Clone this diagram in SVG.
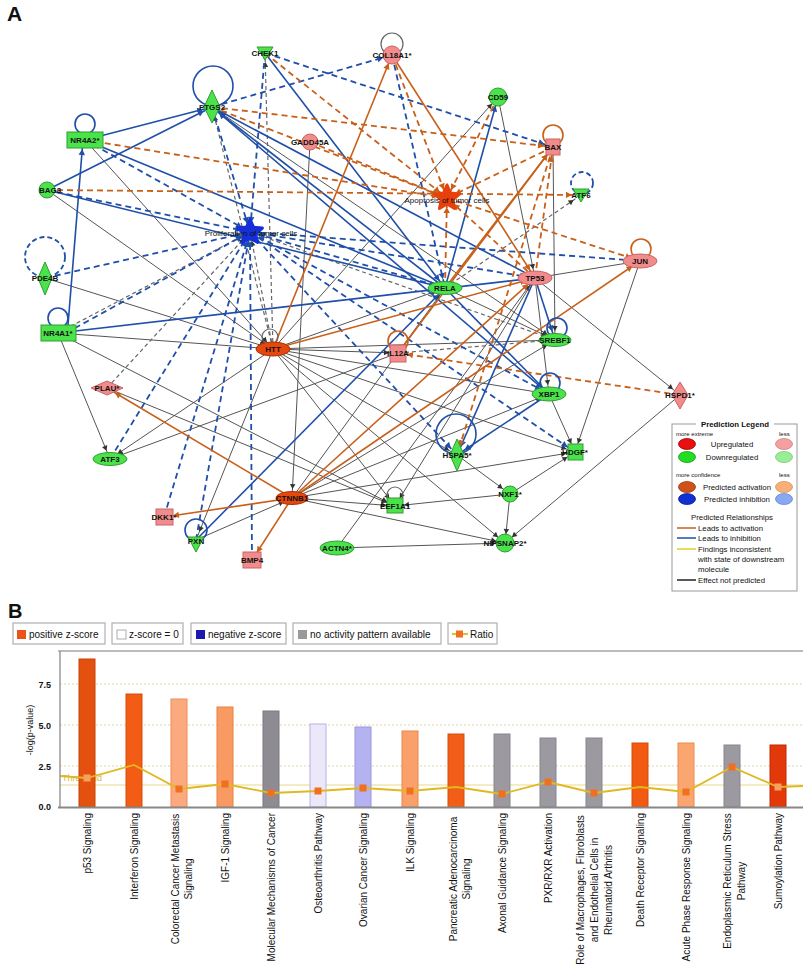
<svg xmlns="http://www.w3.org/2000/svg" width="803" height="971" viewBox="0 0 803 971">
<defs>
<style>
text{font-family:"Liberation Sans",Arial,sans-serif;fill:#111}
.lbl{font-size:8px;font-weight:bold;text-anchor:middle}
.flbl{font-size:8px;text-anchor:middle}
.bs{stroke:#1f4fa8;stroke-width:1.6;fill:none;marker-end:url(#mb)}
.bd{stroke:#1f4fa8;stroke-width:1.8;fill:none;stroke-dasharray:6 4;marker-end:url(#mb)}
.os{stroke:#c8601a;stroke-width:1.6;fill:none;marker-end:url(#mo)}
.od{stroke:#c8601a;stroke-width:1.8;fill:none;stroke-dasharray:6 4;marker-end:url(#mo)}
.gs{stroke:#555;stroke-width:1;fill:none;marker-end:url(#mg)}
.gd{stroke:#666;stroke-width:1.2;fill:none;stroke-dasharray:4 3;marker-end:url(#mg)}
.lb{stroke:#1f4fa8;stroke-width:1.6;fill:none}
.lbd{stroke:#1f4fa8;stroke-width:1.8;fill:none;stroke-dasharray:5 3}
.lo{stroke:#c8601a;stroke-width:1.6;fill:none}
.lg{stroke:#666;stroke-width:1.2;fill:none}
.up{fill:#F28C8C;stroke:#c86464;stroke-width:1}
.dn{fill:#4BE34B;stroke:#2e9e2e;stroke-width:1}
.rd{fill:#E5480C;stroke:#a83008;stroke-width:1}
.lt{font-size:7.8px}
.ls{font-size:6px}
.xl{font-size:10px}
.bx{fill:#fff;stroke:#b0b0b0;stroke-width:1.2}
.bt{font-size:10px}
</style>
<marker id="mb" viewBox="-8 -4 20 8" markerWidth="20" markerHeight="8" refX="9" refY="0" orient="auto" markerUnits="userSpaceOnUse"><path d="M-6,-3.2 L0,0 L-6,3.2 z" fill="#1f4fa8"/></marker>
<marker id="mo" viewBox="-8 -4 20 8" markerWidth="20" markerHeight="8" refX="9" refY="0" orient="auto" markerUnits="userSpaceOnUse"><path d="M-6,-3.2 L0,0 L-6,3.2 z" fill="#c8601a"/></marker>
<marker id="mg" viewBox="-8 -4 20 8" markerWidth="20" markerHeight="8" refX="9" refY="0" orient="auto" markerUnits="userSpaceOnUse"><path d="M-5,-2.8 L0,0 L-5,2.8 z" fill="#333"/></marker>
<path id="burst" d="M0,-13 L3.5,-4.9 L12.4,-4 L5.7,1.9 L7.6,10.5 L0,6 L-7.6,10.5 L-5.7,1.9 L-12.4,-4 L-3.5,-4.9 Z"/>
</defs>
<rect width="803" height="971" fill="#fff"/>
<text x="7" y="21" style="font-size:21px;font-weight:bold">A</text>

<g id="connectors">
<!-- gray solid -->
<line class="gs" x1="47" y1="190" x2="273" y2="349"/>
<line class="gs" x1="85" y1="140" x2="273" y2="349"/>
<line class="gs" x1="45" y1="278" x2="273" y2="349"/>
<line class="gs" x1="273" y1="349" x2="58" y2="333"/>
<line class="gs" x1="58" y1="333" x2="110" y2="459"/>
<line class="gs" x1="58" y1="333" x2="395" y2="506"/>
<line class="gs" x1="273" y1="349" x2="110" y2="459"/>
<line class="gs" x1="398" y1="353" x2="110" y2="459"/>
<line class="gs" x1="310" y1="142" x2="292" y2="498"/>
<line class="gs" x1="273" y1="349" x2="498" y2="97"/>
<line class="gs" x1="273" y1="349" x2="445" y2="288"/>
<line class="gs" x1="273" y1="349" x2="555" y2="340"/>
<line class="gs" x1="273" y1="349" x2="549" y2="394"/>
<line class="gs" x1="273" y1="349" x2="457" y2="455"/>
<line class="gs" x1="273" y1="349" x2="575" y2="452"/>
<line class="gs" x1="273" y1="349" x2="395" y2="506"/>
<line class="gs" x1="273" y1="349" x2="505" y2="543"/>
<line class="gs" x1="273" y1="349" x2="398" y2="353"/>
<line class="gs" x1="273" y1="349" x2="196" y2="540"/>
<line class="gs" x1="196" y1="540" x2="292" y2="498"/>
<line class="gs" x1="107" y1="388" x2="395" y2="506"/>
<line class="gs" x1="292" y1="498" x2="445" y2="288"/>
<line class="gs" x1="292" y1="498" x2="395" y2="506"/>
<line class="gs" x1="292" y1="498" x2="575" y2="452"/>
<line class="gs" x1="292" y1="498" x2="505" y2="543"/>
<line class="gs" x1="292" y1="498" x2="555" y2="340"/>
<line class="gs" x1="292" y1="498" x2="549" y2="394"/>
<line class="gs" x1="337" y1="548" x2="535" y2="278"/>
<line class="gs" x1="337" y1="548" x2="505" y2="543"/>
<line class="gs" x1="498" y1="97" x2="535" y2="278"/>
<line class="gs" x1="553" y1="147" x2="555" y2="340"/>
<line class="gs" x1="535" y1="278" x2="640" y2="261"/>
<line class="gs" x1="535" y1="278" x2="680" y2="395"/>
<line class="gs" x1="640" y1="261" x2="575" y2="452"/>
<line class="gs" x1="680" y1="395" x2="505" y2="543"/>
<line class="gs" x1="549" y1="394" x2="575" y2="452"/>
<line class="gs" x1="457" y1="455" x2="510" y2="494"/>
<line class="gs" x1="510" y1="494" x2="575" y2="452"/>
<line class="gs" x1="510" y1="494" x2="395" y2="506"/>
<line class="gs" x1="510" y1="494" x2="505" y2="543"/>
<line class="gs" x1="535" y1="278" x2="395" y2="506"/>
<line class="gs" x1="445" y1="288" x2="555" y2="340"/>
<line class="gs" x1="535" y1="278" x2="549" y2="394"/>
<line class="gs" x1="212" y1="107" x2="555" y2="340"/>
<!-- gray dashed -->
<line class="gd" x1="273" y1="349" x2="265" y2="53"/>
<line class="gd" x1="273" y1="349" x2="212" y2="107"/>
<line class="gd" x1="107" y1="388" x2="250" y2="232"/>
<line class="gd" x1="273" y1="349" x2="250" y2="232"/>
<line class="gd" x1="250" y1="232" x2="555" y2="340"/>
<line class="gd" x1="445" y1="288" x2="581" y2="195"/>
<line class="gd" x1="398" y1="353" x2="555" y2="340"/>
<line class="gd" x1="58" y1="333" x2="250" y2="232"/>
<!-- blue dashed -->
<line class="bd" x1="85" y1="140" x2="250" y2="232"/>
<line class="bd" x1="47" y1="190" x2="250" y2="232"/>
<line class="bd" x1="45" y1="278" x2="250" y2="232"/>
<line class="bd" x1="66" y1="333" x2="250" y2="232"/>
<line class="bd" x1="110" y1="459" x2="250" y2="232"/>
<line class="bd" x1="164" y1="517" x2="250" y2="232"/>
<line class="bd" x1="196" y1="540" x2="250" y2="232"/>
<line class="bd" x1="252" y1="560" x2="250" y2="232"/>
<line class="bd" x1="250" y1="232" x2="457" y2="455"/>
<line class="bd" x1="250" y1="232" x2="549" y2="394"/>
<line class="bd" x1="250" y1="232" x2="575" y2="452"/>
<line class="bd" x1="250" y1="232" x2="535" y2="278"/>
<line class="bd" x1="445" y1="288" x2="250" y2="232"/>
<line class="bd" x1="250" y1="232" x2="640" y2="261"/>
<line class="bd" x1="265" y1="53" x2="250" y2="232"/>
<line class="bd" x1="212" y1="107" x2="250" y2="232"/>
<line class="bd" x1="212" y1="107" x2="392" y2="55"/>
<line class="bd" x1="265" y1="53" x2="553" y2="147"/>
<line class="bd" x1="392" y1="55" x2="445" y2="288"/>
<!-- blue solid -->
<line class="bs" x1="85" y1="140" x2="212" y2="107"/>
<line class="bs" x1="47" y1="190" x2="212" y2="107"/>
<line class="bs" x1="68" y1="325" x2="83" y2="140"/>
<line class="bs" x1="445" y1="288" x2="85" y2="140"/>
<line class="bs" x1="445" y1="288" x2="212" y2="107"/>
<line class="bs" x1="535" y1="278" x2="212" y2="107"/>
<line class="bs" x1="549" y1="394" x2="212" y2="107"/>
<line class="bs" x1="265" y1="53" x2="445" y2="288"/>
<line class="bs" x1="47" y1="190" x2="445" y2="288"/>
<line class="bs" x1="535" y1="278" x2="58" y2="333"/>
<line class="bs" x1="196" y1="540" x2="445" y2="288"/>
<line class="bs" x1="445" y1="288" x2="498" y2="97"/>
<line class="bs" x1="445" y1="288" x2="549" y2="394"/>
<line class="bs" x1="549" y1="394" x2="457" y2="455"/>
<line class="bs" x1="535" y1="278" x2="457" y2="455"/>
<line class="bs" x1="535" y1="278" x2="555" y2="340"/>
<!-- orange solid -->
<line class="os" x1="273" y1="349" x2="392" y2="55"/>
<line class="os" x1="292" y1="498" x2="107" y2="388"/>
<line class="os" x1="292" y1="498" x2="164" y2="517"/>
<line class="os" x1="292" y1="498" x2="252" y2="560"/>
<line class="os" x1="292" y1="498" x2="640" y2="261"/>
<line class="os" x1="292" y1="498" x2="535" y2="278"/>
<line class="os" x1="273" y1="349" x2="535" y2="278"/>
<line class="os" x1="392" y1="55" x2="535" y2="278"/>
<line class="os" x1="445" y1="288" x2="553" y2="147"/>
<line class="os" x1="398" y1="353" x2="553" y2="147"/>
<!-- orange dashed -->
<line class="od" x1="85" y1="140" x2="447" y2="198"/>
<line class="od" x1="212" y1="107" x2="447" y2="198"/>
<line class="od" x1="212" y1="107" x2="553" y2="147"/>
<line class="od" x1="265" y1="53" x2="447" y2="198"/>
<line class="od" x1="310" y1="142" x2="447" y2="198"/>
<line class="od" x1="392" y1="55" x2="447" y2="198"/>
<line class="od" x1="498" y1="97" x2="447" y2="198"/>
<line class="od" x1="553" y1="147" x2="447" y2="198"/>
<line class="od" x1="535" y1="278" x2="447" y2="198"/>
<line class="od" x1="447" y1="198" x2="640" y2="261"/>
<line class="od" x1="47" y1="190" x2="581" y2="195"/>
<line class="od" x1="535" y1="278" x2="553" y2="147"/>
<line class="od" x1="553" y1="147" x2="457" y2="455"/>
<line class="od" x1="680" y1="395" x2="398" y2="353"/>
<line class="od" x1="445" y1="288" x2="447" y2="198"/>
</g>

<g id="loops">
<circle class="lb" cx="213" cy="86" r="20"/>
<circle class="lb" cx="85" cy="124" r="10"/>
<circle class="lbd" cx="45" cy="257" r="20"/>
<circle class="lb" cx="58" cy="318" r="10"/>
<circle class="lg" cx="392" cy="44" r="11"/>
<circle class="lo" cx="553" cy="135" r="10"/>
<circle class="lbd" cx="582" cy="183" r="11"/>
<circle class="lo" cx="641" cy="249" r="10"/>
<circle class="lg" cx="270" cy="337" r="8"/>
<circle class="lo" cx="398" cy="341" r="10"/>
<circle class="lb" cx="557" cy="328" r="10"/>
<circle class="lb" cx="550" cy="383" r="10"/>
<circle class="lb" cx="456" cy="434" r="20"/>
<circle class="lb" cx="196" cy="530" r="11"/>
<circle class="lg" cx="395" cy="495" r="8"/>
</g>

<g id="n-chek1"><polygon class="dn" points="257,47 273,47 265,60"/><text class="lbl" x="265" y="56">CHEK1</text></g>
<g id="n-col18a1"><circle class="up" cx="392" cy="55" r="9"/><text class="lbl" x="392" y="58">COL18A1*</text></g>
<g id="n-ptgs2"><polygon class="dn" points="212,90 220,107 212,123 204,107"/><text class="lbl" x="212" y="110">PTGS2</text></g>
<g id="n-nr4a2"><rect class="dn" x="67" y="132" width="36" height="16"/><text class="lbl" x="85" y="143">NR4A2*</text></g>
<g id="n-gadd45a"><circle class="up" cx="310" cy="142" r="8"/><text class="lbl" x="310" y="145">GADD45A</text></g>
<g id="n-cd59"><circle class="dn" cx="498" cy="97" r="9"/><text class="lbl" x="498" y="100">CD59</text></g>
<g id="n-bax"><rect class="up" x="546" y="139" width="14" height="16"/><text class="lbl" x="553" y="150">BAX</text></g>
<g id="n-bag3"><circle class="dn" cx="47" cy="190" r="8"/><text class="lbl" x="50" y="193">BAG3</text></g>
<g id="n-apoptosis"><use href="#burst" transform="translate(447,198)" fill="#E8400C" stroke="#E8400C" stroke-width="3" stroke-linejoin="round"/><text class="flbl" x="447" y="203">Apoptosis of tumor cells</text></g>
<g id="n-atf6"><polygon class="dn" points="573,189 589,189 581,202"/><text class="lbl" x="581" y="198">ATF6</text></g>
<g id="n-proliferation"><use href="#burst" transform="translate(250,232)" fill="#1530D8" stroke="#1530D8" stroke-width="3" stroke-linejoin="round"/><text class="flbl" x="251" y="236">Proliferation of tumor cells</text></g>
<g id="n-pde4b"><polygon class="dn" points="45,262 52,278 45,295 38,278"/><text class="lbl" x="45" y="281">PDE4B</text></g>
<g id="n-jun"><ellipse class="up" cx="640" cy="261" rx="17" ry="7"/><text class="lbl" x="640" y="264">JUN</text></g>
<g id="n-tp53"><ellipse class="up" cx="535" cy="278" rx="17" ry="7"/><text class="lbl" x="535" y="281">TP53</text></g>
<g id="n-rela"><ellipse class="dn" cx="445" cy="288" rx="17" ry="6.5"/><text class="lbl" x="445" y="291">RELA</text></g>
<g id="n-nr4a1"><rect class="dn" x="41" y="325" width="35" height="16"/><text class="lbl" x="58" y="336">NR4A1*</text></g>
<g id="n-htt"><ellipse class="rd" cx="273" cy="349" rx="17" ry="7"/><text class="lbl" x="273" y="352">HTT</text></g>
<g id="n-il12a"><rect class="up" x="390" y="345" width="16" height="17"/><text class="lbl" x="398" y="356">IL12A</text></g>
<g id="n-srebf1"><ellipse class="dn" cx="555" cy="340" rx="16" ry="6.5"/><text class="lbl" x="555" y="343">SREBF1</text></g>
<g id="n-plau"><polygon class="up" points="91,388 107,381 123,388 107,395"/><text class="lbl" x="107" y="391">PLAU*</text></g>
<g id="n-hspd1"><polygon class="up" points="680,382 688,395 680,409 672,395"/><text class="lbl" x="680" y="398">HSPD1*</text></g>
<g id="n-xbp1"><ellipse class="dn" cx="549" cy="394" rx="17" ry="7"/><text class="lbl" x="549" y="397">XBP1</text></g>
<g id="n-atf3"><ellipse class="dn" cx="110" cy="459" rx="17" ry="6.5"/><text class="lbl" x="110" y="462">ATF3</text></g>
<g id="n-hspa5"><polygon class="dn" points="457,439 464,455 457,471 450,455"/><text class="lbl" x="457" y="458">HSPA5*</text></g>
<g id="n-hdgf"><rect class="dn" x="568" y="444" width="15" height="16"/><text class="lbl" x="575" y="455">HDGF*</text></g>
<g id="n-ctnnb1"><ellipse class="rd" cx="292" cy="498" rx="16" ry="6.5"/><text class="lbl" x="292" y="501">CTNNB1</text></g>
<g id="n-nxf1"><circle class="dn" cx="510" cy="494" r="8"/><text class="lbl" x="510" y="497">NXF1*</text></g>
<g id="n-eef1a1"><rect class="dn" x="387" y="498" width="16" height="15"/><text class="lbl" x="395" y="509">EEF1A1</text></g>
<g id="n-dkk1"><rect class="up" x="156" y="509" width="17" height="16"/><text class="lbl" x="164" y="520">DKK1*</text></g>
<g id="n-pxn"><polygon class="dn" points="188,537 204,537 196,552"/><text class="lbl" x="196" y="544">PXN</text></g>
<g id="n-bmp4"><rect class="up" x="243" y="552" width="18" height="16"/><text class="lbl" x="252" y="563">BMP4</text></g>
<g id="n-actn4"><ellipse class="dn" cx="337" cy="548" rx="17" ry="7"/><text class="lbl" x="337" y="551">ACTN4*</text></g>
<g id="n-nipsnap2"><circle class="dn" cx="505" cy="543" r="9"/><text class="lbl" x="505" y="546">NIPSNAP2*</text></g>

<g id="prediction-legend">
<rect x="672" y="424" width="125" height="167" fill="#fff" stroke="#999" stroke-width="1"/>
<rect x="696" y="419" width="78" height="9" fill="#fff"/>
<text class="lt" x="735" y="427" style="font-weight:bold;text-anchor:middle">Prediction Legend</text>
<text class="ls" x="676" y="436">more extreme</text>
<text class="ls" x="779" y="436">less</text>
<ellipse cx="687" cy="444" rx="8.5" ry="5.5" fill="#E81010" stroke="#a00" stroke-width="0.8"/>
<text class="lt" x="732" y="447" style="text-anchor:middle">Upregulated</text>
<ellipse cx="784" cy="444" rx="8.5" ry="5.5" fill="#F4A0A0" stroke="#c88" stroke-width="0.8"/>
<ellipse cx="687" cy="457" rx="8.5" ry="5.5" fill="#22DD22" stroke="#1a9a1a" stroke-width="0.8"/>
<text class="lt" x="732" y="460" style="text-anchor:middle">Downregulated</text>
<ellipse cx="784" cy="457" rx="8.5" ry="5.5" fill="#98EE98" stroke="#7c7" stroke-width="0.8"/>
<text class="ls" x="676" y="477">more confidence</text>
<text class="ls" x="779" y="477">less</text>
<ellipse cx="687" cy="487" rx="8.5" ry="5.5" fill="#D0501A" stroke="#a03a10" stroke-width="0.8"/>
<text class="lt" x="737" y="490" style="text-anchor:middle">Predicted activation</text>
<ellipse cx="784" cy="487" rx="8.5" ry="5.5" fill="#F8B078" stroke="#d89060" stroke-width="0.8"/>
<ellipse cx="687" cy="499" rx="8.5" ry="5.5" fill="#1030D0" stroke="#0a20a0" stroke-width="0.8"/>
<text class="lt" x="737" y="502" style="text-anchor:middle">Predicted inhibition</text>
<ellipse cx="784" cy="499" rx="8.5" ry="5.5" fill="#88A8F0" stroke="#6888d0" stroke-width="0.8"/>
<text class="lt" x="732" y="520" style="text-anchor:middle">Predicted Relationships</text>
<line x1="677" y1="528" x2="696" y2="528" stroke="#C8601A" stroke-width="1.5"/>
<text class="lt" x="698" y="531">Leads to activation</text>
<line x1="677" y1="538" x2="696" y2="538" stroke="#1f4fa8" stroke-width="1.5"/>
<text class="lt" x="698" y="541">Leads to inhibition</text>
<line x1="677" y1="549" x2="696" y2="549" stroke="#E0D020" stroke-width="1.5"/>
<text class="lt" x="698" y="552">Findings inconsistent</text>
<text class="lt" x="698" y="562">with state of downstream</text>
<text class="lt" x="698" y="572">molecule</text>
<line x1="677" y1="580" x2="696" y2="580" stroke="#222" stroke-width="1.5"/>
<text class="lt" x="698" y="583">Effect not predicted</text>
</g>

<text x="8" y="618" style="font-size:20px;font-weight:bold">B</text>

<g id="chart-legend">
<rect class="bx" x="13" y="623" width="92" height="21"/>
<rect x="17" y="630" width="9" height="9" fill="#E8541A"/>
<text class="bt" x="29" y="638">positive z-score</text>
<rect class="bx" x="112" y="623" width="71" height="21"/>
<rect x="117" y="630" width="9" height="9" fill="#fff" stroke="#999" stroke-width="0.8"/>
<text class="bt" x="129" y="638">z-score = 0</text>
<rect class="bx" x="191" y="623" width="95" height="21"/>
<rect x="196" y="630" width="9" height="9" fill="#1A1AB0"/>
<text class="bt" x="208" y="638">negative z-score</text>
<rect class="bx" x="293" y="623" width="148" height="21"/>
<rect x="298" y="630" width="9" height="9" fill="#999"/>
<text class="bt" x="310" y="638">no activity pattern available</text>
<rect class="bx" x="448" y="623" width="49" height="21"/>
<line x1="452" y1="634" x2="468" y2="634" stroke="#E0C030" stroke-width="2"/>
<rect x="456" y="630.5" width="7" height="7" fill="#F07020"/>
<text class="bt" x="470" y="638">Ratio</text>
</g>

<g id="chart">
<line x1="58" y1="651" x2="803" y2="651" stroke="#bbb" stroke-width="2"/>
<line x1="60" y1="684" x2="803" y2="684" stroke="#ddd6a8" stroke-width="1" stroke-dasharray="2 2"/>
<line x1="60" y1="725" x2="803" y2="725" stroke="#ddd6a8" stroke-width="1" stroke-dasharray="2 2"/>
<line x1="60" y1="766" x2="803" y2="766" stroke="#ddd6a8" stroke-width="1" stroke-dasharray="2 2"/>
<text x="62" y="781" style="font-size:9px;fill:#D8B840">Threshold</text>
<line x1="60" y1="785" x2="803" y2="785" stroke="#E8D888" stroke-width="1"/>
<g id="bars" stroke-width="1">
<rect x="79" y="659" width="16" height="148" fill="#E4510E" stroke="#c94008"/>
<rect x="126" y="694" width="16" height="113" fill="#F25C14" stroke="#d84a0a"/>
<rect x="171" y="699" width="16" height="108" fill="#FBAA80" stroke="#f08a50"/>
<rect x="217" y="707" width="16" height="100" fill="#F99A62" stroke="#e88040"/>
<rect x="263" y="711" width="16" height="96" fill="#8E8B93" stroke="#7a7880"/>
<rect x="310" y="724" width="16" height="83" fill="#ECE8FA" stroke="#b8b0e0"/>
<rect x="355" y="727" width="16" height="80" fill="#B4B2F0" stroke="#9a98e0"/>
<rect x="402" y="731" width="16" height="76" fill="#FAA06A" stroke="#e88848"/>
<rect x="448" y="734" width="16" height="73" fill="#F25E18" stroke="#d84c0c"/>
<rect x="494" y="734" width="16" height="73" fill="#9C99A1" stroke="#88858e"/>
<rect x="540" y="738" width="16" height="69" fill="#9C99A1" stroke="#88858e"/>
<rect x="586" y="738" width="16" height="69" fill="#9C99A1" stroke="#88858e"/>
<rect x="632" y="743" width="16" height="64" fill="#F25A12" stroke="#d84a0a"/>
<rect x="678" y="743" width="16" height="64" fill="#FBA670" stroke="#e88c50"/>
<rect x="724" y="745" width="16" height="62" fill="#9C99A1" stroke="#88858e"/>
<rect x="770" y="745" width="16" height="62" fill="#E2380A" stroke="#c02a04"/>
</g>
<polyline points="60,776 87,778 134,765 179,789 225,784 271,793 318,791 363,788 410,791 456,787 502,794 548,782 594,793 640,787 686,792 732,767 778,787 803,786" fill="none" stroke="#E0B820" stroke-width="1.8"/>
<g id="ratio-markers" fill="#F07020">
<rect x="83.5" y="774.5" width="7" height="7" fill="#F7A060"/>
<rect x="175.5" y="785.5" width="7" height="7"/>
<rect x="221.5" y="780.5" width="7" height="7"/>
<rect x="267.5" y="789.5" width="7" height="7"/>
<rect x="314.5" y="787.5" width="7" height="7"/>
<rect x="359.5" y="784.5" width="7" height="7"/>
<rect x="406.5" y="787.5" width="7" height="7"/>
<rect x="498.5" y="790.5" width="7" height="7"/>
<rect x="544.5" y="778.5" width="7" height="7"/>
<rect x="590.5" y="789.5" width="7" height="7"/>
<rect x="682.5" y="788.5" width="7" height="7"/>
<rect x="728.5" y="763.5" width="7" height="7"/>
<rect x="774.5" y="783.5" width="7" height="7" fill="#F7A060"/>
</g>
<line x1="60" y1="651" x2="60" y2="808" stroke="#999" stroke-width="1.5"/>
<line x1="58" y1="807.5" x2="803" y2="807.5" stroke="#888" stroke-width="2"/>
<g style="font-size:9px;font-weight:bold;text-anchor:end">
<text x="51" y="688">7.5</text>
<text x="51" y="729">5.0</text>
<text x="51" y="770">2.5</text>
<text x="51" y="810">0.0</text>
</g>
<text transform="translate(33,730) rotate(-90)" style="font-size:9px;text-anchor:middle">-log(p-value)</text>
<g class="xlabels" style="font-size:10px">
<text transform="translate(90.5,813) rotate(-90)" text-anchor="end">p53 Signaling</text>
<text transform="translate(137.5,813) rotate(-90)" text-anchor="end">Interferon Signaling</text>
<text transform="translate(178.5,879) rotate(-90)" text-anchor="middle">Colorectal Cancer Metastasis</text>
<text transform="translate(191.5,879) rotate(-90)" text-anchor="middle">Signaling</text>
<text transform="translate(228.5,813) rotate(-90)" text-anchor="end">IGF-1 Signaling</text>
<text transform="translate(274.5,813) rotate(-90)" text-anchor="end">Molecular Mechanisms of Cancer</text>
<text transform="translate(321.5,813) rotate(-90)" text-anchor="end">Osteoarthritis Pathway</text>
<text transform="translate(366.5,813) rotate(-90)" text-anchor="end">Ovarian Cancer Signaling</text>
<text transform="translate(413.5,813) rotate(-90)" text-anchor="end">ILK Signaling</text>
<text transform="translate(456.5,879) rotate(-90)" text-anchor="middle">Pancreatic Adenocarcinoma</text>
<text transform="translate(469.5,879) rotate(-90)" text-anchor="middle">Signaling</text>
<text transform="translate(505.5,813) rotate(-90)" text-anchor="end">Axonal Guidance Signaling</text>
<text transform="translate(551.5,813) rotate(-90)" text-anchor="end">PXR/RXR Activation</text>
<text transform="translate(583.5,890) rotate(-90)" text-anchor="middle">Role of Macrophages, Fibroblasts</text>
<text transform="translate(597.5,890) rotate(-90)" text-anchor="middle">and Endothelial Cells in</text>
<text transform="translate(611.5,890) rotate(-90)" text-anchor="middle">Rheumatoid Arthritis</text>
<text transform="translate(643.5,813) rotate(-90)" text-anchor="end">Death Receptor Signaling</text>
<text transform="translate(689.5,813) rotate(-90)" text-anchor="end">Acute Phase Response Signaling</text>
<text transform="translate(730.5,881) rotate(-90)" text-anchor="middle">Endoplasmic Reticulum Stress</text>
<text transform="translate(744.5,881) rotate(-90)" text-anchor="middle">Pathway</text>
<text transform="translate(781.5,813) rotate(-90)" text-anchor="end">Sumoylation Pathway</text>
</g>
</g>
</svg>
